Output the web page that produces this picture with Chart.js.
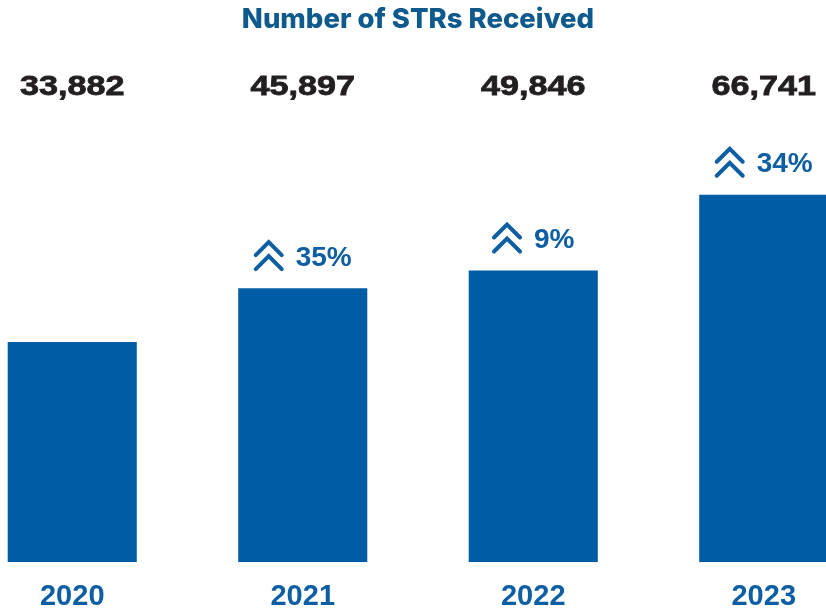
<!DOCTYPE html>
<html>
<head>
<meta charset="utf-8">
<script src="https://cdn.jsdelivr.net/npm/chart.js@4.4.0/dist/chart.umd.min.js"></script>
<style>
  html, body { margin: 0; padding: 0; background: #fff; overflow: hidden; }
  #wrap { position: absolute; left: -43px; top: 0; width: 922px; height: 631px; }
</style>
</head>
<body>
<div id="wrap"><canvas id="str-chart"></canvas></div>
<script>
// Data
const years = ['2020', '2021', '2022', '2023'];
const strCounts = [33882, 45897, 49846, 66741];
const growthLabels = ['', '35%', '9%', '34%'];

const barBlue = '#005da5';
const textBlue = '#0d5ea2';

// Value labels, growth chevrons
const labelsPlugin = {
    id: 'strLabels',
    afterDatasetsDraw(chart) {
        const ctx = chart.ctx;
        const xScale = chart.scales.x;
        const bars = chart.getDatasetMeta(0).data;

        ctx.save();
        strCounts.forEach((v, i) => {
            const x = xScale.getPixelForValue(i);

            // big number on top row (wide face, so stretch it a little)
            ctx.save();
            ctx.translate(x, 87);
            ctx.scale(1.22, 1);
            ctx.font = 'bold 28px "Liberation Sans", Arial, sans-serif';
            ctx.fillStyle = '#231f20';
            ctx.textAlign = 'center';
            ctx.textBaseline = 'middle';
            ctx.lineWidth = 0.8;
            ctx.strokeStyle = '#231f20';
            ctx.fillText(v.toLocaleString('en-US'), 0, 0);
            ctx.strokeText(v.toLocaleString('en-US'), 0, 0);
            ctx.restore();

            if (!growthLabels[i]) return;

            // growth label above the bar
            const top = bars[i].y;
            const cy = top - 31;
            ctx.font = 'bold 28px "Liberation Sans", Arial, sans-serif';
            const tw = ctx.measureText(growthLabels[i]).width;
            const total = 30 + 12 + tw;
            const left = x - total / 2;

            ctx.strokeStyle = textBlue;
            ctx.lineWidth = 4;
            ctx.lineCap = 'round';
            ctx.lineJoin = 'miter';
            [-14, 0].forEach(dy => {
                ctx.beginPath();
                ctx.moveTo(left + 2, cy + dy + 12);
                ctx.lineTo(left + 15, cy + dy - 1);
                ctx.lineTo(left + 28, cy + dy + 12);
                ctx.stroke();
            });

            ctx.fillStyle = textBlue;
            ctx.textAlign = 'left';
            ctx.textBaseline = 'middle';
            ctx.fillText(growthLabels[i], left + 42, cy + 1);
        });
        ctx.restore();
    }
};

new Chart(document.getElementById('str-chart'), {
    type: 'bar',
    data: {
        labels: years,
        datasets: [{
            data: strCounts,
            base: -15200,
            backgroundColor: barBlue,
            borderWidth: 0,
            categoryPercentage: 1,
            barPercentage: 0.56
        }]
    },
    options: {
        responsive: true,
        maintainAspectRatio: false,
        animation: false,
        layout: { padding: 0 },
        plugins: {
            legend: { display: false },
            tooltip: { enabled: false },
            title: {
                display: true,
                text: 'Number of STRs Received',
                color: '#0f5a8c',
                font: { family: 'Inter, "Liberation Sans", sans-serif', size: 27.5, weight: '800', lineHeight: 1.2 },
                padding: { top: 3, bottom: 84 }
            }
        },
        scales: {
            x: {
                grid: { display: false, drawTicks: false },
                border: { display: false },
                ticks: {
                    color: textBlue,
                    padding: 17,
                    font: { family: '"Liberation Sans", Arial, sans-serif', size: 29, weight: 'bold', lineHeight: 1.2 }
                }
            },
            y: {
                display: false,
                min: -15200,
                max: 83400
            }
        }
    },
    plugins: [labelsPlugin]
});
</script>
</body>
</html>
